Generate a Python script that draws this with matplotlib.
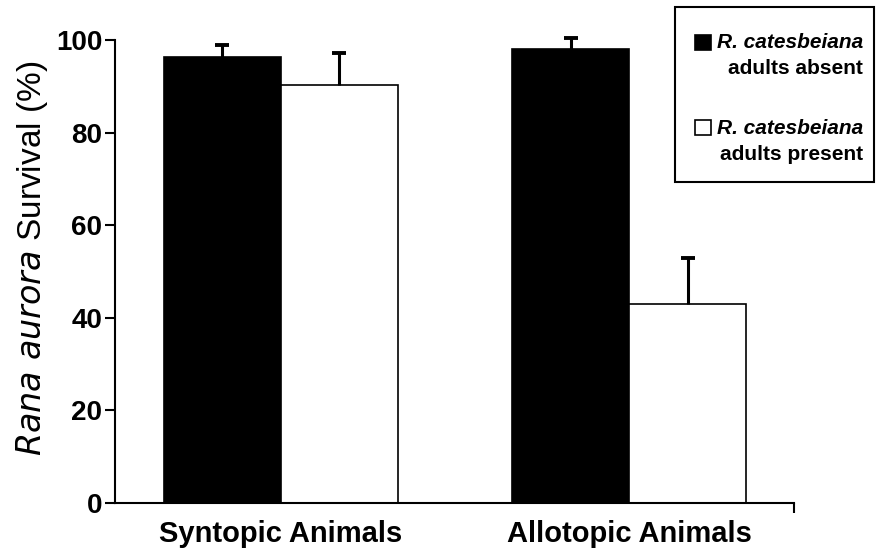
import matplotlib
matplotlib.use("Agg")
import matplotlib.pyplot as plt
from matplotlib.patches import Rectangle
import numpy as np

plt.rcParams['font.family'] = ['Liberation Sans', 'DejaVu Sans']

groups = ["Syntopic Animals", "Allotopic Animals"]
absent_mean = [96.4, 98.0]
absent_err = [2.5, 2.4]
present_mean = [90.3, 43.0]
present_err = [7.0, 9.9]
yticks = [0, 20, 40, 60, 80, 100]

W, H = 877, 554
fig = plt.figure(figsize=(W / 100, H / 100), dpi=100)


def fx(x):
    return x / W


def fy(y):
    return 1 - y / H


ax = fig.add_axes([fx(115), fy(503), fx(794) - fx(115), fy(40) - fy(503)])

x = np.arange(len(groups))
width = 0.336
xa = x - width / 2
xp = x + width / 2

ax.bar(xa, absent_mean, width, color="black", edgecolor="black", linewidth=1.2, zorder=2)
ax.bar(xp, present_mean, width, color="white", edgecolor="black", linewidth=1.2, zorder=2)

# upper-only error bars: stem from the bar top plus a cap at the end
for xs, m, e in [(xa, absent_mean, absent_err), (xp, present_mean, present_err)]:
    m = np.asarray(m)
    tops = m + np.asarray(e)
    ax.vlines(xs, m, tops, colors="black", linewidth=2.2, zorder=3, clip_on=False)
    ax.plot(xs, tops, linestyle="none", marker="_", markersize=10,
            markeredgewidth=2.8, color="black", zorder=3, clip_on=False)

ax.set_xlim(-0.4766, 1.4737)
ax.set_ylim(0, 100)

for s in ["top", "right"]:
    ax.spines[s].set_visible(False)
for s in ["left", "bottom"]:
    ax.spines[s].set_linewidth(1.5)

ax.set_yticks(yticks)
ax.set_yticklabels([str(t) for t in yticks], fontsize=20, fontweight="bold")
ax.tick_params(axis="y", direction="out", length=7, width=1.5, pad=2)

ax.set_xticks(x)
ax.set_xticklabels(groups, fontsize=21, fontweight="bold")
ax.tick_params(axis="x", which="major", length=0, pad=12)
ax.set_xticks([1.4737], minor=True)
ax.tick_params(axis="x", which="minor", direction="out", length=7, width=1.5)

fig.text(fx(32), fy(258), r"$\it{Rana\ aurora}$ Survival (%)", rotation=90,
         ha="center", va="center", fontsize=24)

# Legend box drawn by hand
fig.patches.append(Rectangle((fx(675), fy(182)), fx(874) - fx(675), fy(7) - fy(182),
                             transform=fig.transFigure, facecolor="white",
                             edgecolor="black", linewidth=1.5))
fig.patches.append(Rectangle((fx(695), fy(50)), fx(711) - fx(695), fy(35) - fy(50),
                             transform=fig.transFigure, facecolor="black",
                             edgecolor="black", linewidth=1.2))
fig.patches.append(Rectangle((fx(695), fy(135)), fx(711) - fx(695), fy(120) - fy(135),
                             transform=fig.transFigure, facecolor="white",
                             edgecolor="black", linewidth=1.2))

legend_rows = [
    ("R. catesbeiana", "adults absent", 43, 69),
    ("R. catesbeiana", "adults present", 128, 154),
]
for name, note, y1, y2 in legend_rows:
    fig.text(fx(863), fy(y1), name, ha="right", va="center", fontsize=15,
             fontweight="bold", fontstyle="italic")
    fig.text(fx(863), fy(y2), note, ha="right", va="center", fontsize=15,
             fontweight="bold")

fig.savefig("out.png", dpi=100)
